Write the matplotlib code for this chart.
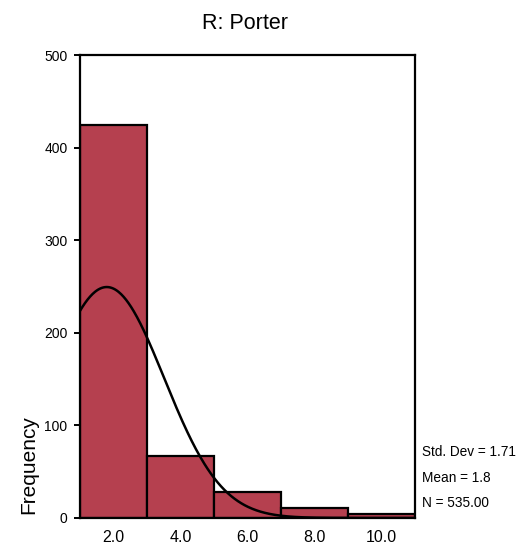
import numpy as np
import matplotlib.pyplot as plt

# histogram bins (class width 2) and counts
bin_edges = [1, 3, 5, 7, 9, 11]
counts = [425, 67, 28, 11, 4]
tick_pos = [2, 4, 6, 8, 10]
tick_labels = ['2.0', '4.0', '6.0', '8.0', '10.0']

std_dev = 1.71
mean = 1.8
n = 535.00

narrow = ['Liberation Sans Narrow', 'Liberation Sans', 'DejaVu Sans']

fig = plt.figure(figsize=(5.19, 5.54), dpi=100)
ax = fig.add_axes([0.154, 0.065, 0.646, 0.835])

lefts = bin_edges[:-1]
widths = np.diff(bin_edges)
ax.bar(lefts, counts, width=widths, align='edge', color='#b5404f',
       edgecolor='black', linewidth=1.6)

# normal curve scaled to the histogram
xs = np.linspace(1, 11, 400)
ys = n * 2 / (std_dev * np.sqrt(2 * np.pi)) * np.exp(-0.5 * ((xs - mean) / std_dev) ** 2)
ax.plot(xs, ys, color='black', linewidth=1.8)

ax.set_xlim(1, 11)
ax.set_ylim(0, 500)
ax.set_yticks([0, 100, 200, 300, 400, 500])
ax.set_xticks(tick_pos)
ax.set_xticklabels(tick_labels)
ax.tick_params(axis='x', length=0, pad=9)
ax.tick_params(axis='y', length=4, width=1.4, direction='out', pad=5)
for lab in ax.get_xticklabels():
    lab.set_family(narrow)
    lab.set_fontsize(11.5)
for lab in ax.get_yticklabels():
    lab.set_family(narrow)
    lab.set_fontsize(10)
for s in ax.spines.values():
    s.set_linewidth(1.6)

fig.text(0.473, 0.958, 'R: Porter', ha='center', va='center', fontsize=15.5,
         family=narrow)
fig.text(0.055, 0.161, 'Frequency', rotation=90, ha='center', va='center',
         fontsize=15, family=['Liberation Sans', 'DejaVu Sans'])

stats = ['Std. Dev = %.2f' % std_dev, 'Mean = %.1f' % mean, 'N = %.2f' % n]
for i, s in enumerate(stats):
    fig.text(0.813, 0.184 - i * 0.046, s, ha='left', va='center', fontsize=9.8,
             family=narrow)

fig.savefig('out.png', dpi=100)
